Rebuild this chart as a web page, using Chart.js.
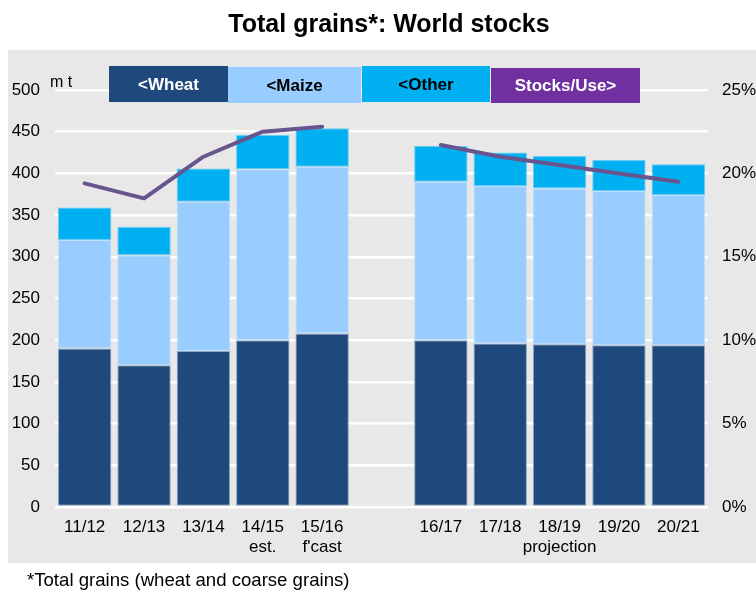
<!DOCTYPE html>
<html>
<head>
<meta charset="utf-8">
<script src="https://cdn.jsdelivr.net/npm/chart.js@4"></script>
<style>
  html, body { margin: 0; padding: 0; background: #ffffff; }
  #wrap { width: 756px; height: 590px; }
</style>
</head>
<body>
<div id="wrap"><canvas id="chart" width="756" height="590"></canvas></div>
<script>
// Marketing years (the empty slot separates the estimates from the projections)
const seasons = ['11/12', '12/13', '13/14', ['14/15', 'est.'], ['15/16', "f'cast"], '',
                 '16/17', '17/18', ['18/19', 'projection'], '19/20', '20/21'];

// Closing stocks, million tonnes
const wheatStocks = [190, 170, 187, 200, 208, null, 200, 196, 195, 194, 194];
const maizeStocks = [130, 132, 179, 205, 200, null, 190, 189, 187, 185, 180];
const otherStocks = [39, 34, 40, 41, 46, null, 43, 40, 39, 37, 37];

// Stocks-to-use ratio, per cent
const stocksToUse = [19.4, 18.5, 21.0, 22.5, 22.8, null, 21.7, 21.0, 20.5, 20.0, 19.5];

// Axis ticks
const leftTicks = [0, 50, 100, 150, 200, 250, 300, 350, 400, 450, 500];
const rightTicks = [0, 5, 10, 15, 20, 25];

const COLORS = {
  wheat: '#1f497d',
  maize: '#99ccff',
  other: '#00b0f0',
  ratioBox: '#7030a0',
  ratioLine: '#68548f',
  panel: '#e8e8e8'
};

const FONT = '"Liberation Sans", Arial, Helvetica, sans-serif';

// Panel background, heading, unit label, legend boxes and footnote
const decorations = {
  id: 'decorations',
  beforeDraw(chart) {
    const ctx = chart.ctx;
    ctx.save();
    ctx.fillStyle = '#ffffff';
    ctx.fillRect(0, 0, chart.width, chart.height);
    ctx.fillStyle = COLORS.panel;
    ctx.fillRect(8, 50, chart.width - 8, 513);
    ctx.restore();
  },
  afterDraw(chart) {
    const ctx = chart.ctx;
    ctx.save();
    ctx.fillStyle = '#000000';
    ctx.textAlign = 'center';
    ctx.textBaseline = 'alphabetic';
    ctx.font = 'bold 25px ' + FONT;
    ctx.fillText('Total grains*: World stocks', 389, 32);

    ctx.textAlign = 'left';
    ctx.font = '16px ' + FONT;
    ctx.fillText('m t', 50, 87);

    ctx.font = '18.6px ' + FONT;
    ctx.fillText('*Total grains (wheat and coarse grains)', 27, 586);

    const boxes = [
      { text: '<Wheat', x: 109, y: 66, w: 119, h: 36, fill: COLORS.wheat, color: '#ffffff' },
      { text: '<Maize', x: 228, y: 67, w: 133, h: 36, fill: COLORS.maize, color: '#000000' },
      { text: '<Other', x: 362, y: 66, w: 128, h: 36, fill: COLORS.other, color: '#000000' },
      { text: 'Stocks/Use>', x: 491, y: 68, w: 149, h: 35, fill: COLORS.ratioBox, color: '#ffffff' }
    ];
    ctx.font = 'bold 17px ' + FONT;
    ctx.textAlign = 'center';
    ctx.textBaseline = 'middle';
    boxes.forEach(b => {
      ctx.fillStyle = b.fill;
      ctx.fillRect(b.x, b.y, b.w, b.h);
      ctx.fillStyle = b.color;
      ctx.fillText(b.text, b.x + b.w / 2, b.y + b.h / 2 + 1);
    });
    ctx.restore();
  }
};

const barBase = {
  type: 'bar',
  yAxisID: 'y',
  stack: 'grains',
  categoryPercentage: 0.9,
  barPercentage: 1.0,
  borderWidth: 1,
  borderSkipped: false,
  order: 2
};

new Chart(document.getElementById('chart'), {
  data: {
    labels: seasons,
    datasets: [
      Object.assign({}, barBase, { label: 'Wheat', data: wheatStocks,
        backgroundColor: COLORS.wheat, borderColor: 'rgba(120,150,190,0.8)' }),
      Object.assign({}, barBase, { label: 'Maize', data: maizeStocks,
        backgroundColor: COLORS.maize, borderColor: 'rgba(185,222,255,0.9)' }),
      Object.assign({}, barBase, { label: 'Other', data: otherStocks,
        backgroundColor: COLORS.other, borderColor: 'rgba(90,200,245,0.9)' }),
      {
        type: 'line',
        label: 'Stocks/Use',
        data: stocksToUse,
        yAxisID: 'y2',
        borderColor: COLORS.ratioLine,
        borderWidth: 4,
        borderCapStyle: 'round',
        borderJoinStyle: 'round',
        pointRadius: 0,
        tension: 0,
        spanGaps: false,
        order: 1
      }
    ]
  },
  options: {
    responsive: false,
    animation: false,
    devicePixelRatio: 1,
    layout: { padding: { top: 90, bottom: 23, left: 0, right: 0 } },
    plugins: {
      legend: { display: false },
      title: { display: false },
      tooltip: { enabled: false }
    },
    scales: {
      x: {
        stacked: true,
        grid: { display: false, drawTicks: false },
        border: { display: false },
        ticks: {
          color: '#000000',
          font: { family: FONT, size: 17, lineHeight: 1.2 },
          padding: 10,
          maxRotation: 0,
          autoSkip: false
        },
        afterFit(scale) { scale.height = 60; }
      },
      y: {
        stacked: true,
        position: 'left',
        min: leftTicks[0],
        max: leftTicks[leftTicks.length - 1],
        afterBuildTicks(scale) { scale.ticks = leftTicks.map(v => ({ value: v })); },
        grid: { color: '#ffffff', lineWidth: 2.5, drawTicks: false },
        border: { display: false },
        ticks: {
          color: '#000000',
          font: { family: FONT, size: 17 },
          padding: 15
        },
        afterFit(scale) { scale.width = 55; }
      },
      y2: {
        position: 'right',
        min: rightTicks[0],
        max: rightTicks[rightTicks.length - 1],
        afterBuildTicks(scale) { scale.ticks = rightTicks.map(v => ({ value: v })); },
        grid: { display: false, drawTicks: false },
        border: { display: false },
        ticks: {
          color: '#000000',
          font: { family: FONT, size: 17 },
          padding: 14,
          callback: v => v + '%'
        },
        afterFit(scale) { scale.width = 48; }
      }
    }
  },
  plugins: [decorations]
});
</script>
</body>
</html>
